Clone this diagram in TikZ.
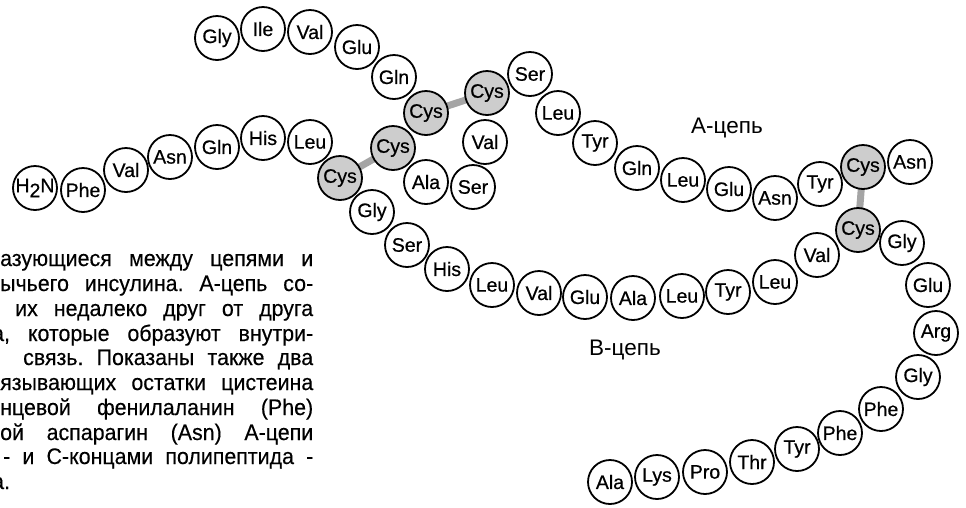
\documentclass[tikz,border=0pt]{standalone}
\usepackage{fontspec}
\setmainfont{Liberation Sans}
\newfontfamily\labelfont[FakeBold=0.6]{Liberation Sans}
\newfontfamily\bodyfont[FakeStretch=0.95,FakeBold=0.3]{Liberation Sans}
\usetikzlibrary{backgrounds}
\definecolor{cysgray}{RGB}{205,205,205}
\definecolor{bondgray}{RGB}{165,165,165}
\frenchspacing
\begin{document}
\begin{tikzpicture}[x=1pt,y=-1pt,
  aa/.style={circle,draw,line width=1.8pt,minimum size=44pt,inner sep=0pt,fill=white,
    font=\labelfont\fontsize{19.5}{21}\selectfont},
  cys/.style={aa,fill=cysgray},
  ssbond/.style={line width=7pt,draw=bondgray},
  bodyline/.style={anchor=base west,inner sep=0pt,font=\bodyfont\fontsize{22.5}{25}\selectfont},
  chainlabel/.style={inner sep=0pt,font=\fontsize{22.5}{25}\selectfont}]
\useasboundingbox (0,0) rectangle (966,507);
% ---- A chain ----
\node[aa]  (a1)  at (217,38)  {Gly};
\node[aa]  (a2)  at (263,29)  {Ile};
\node[aa]  (a3)  at (310,32)  {Val};
\node[aa]  (a4)  at (357,47)  {Glu};
\node[aa]  (a5)  at (394,77)  {Gln};
\node[cys] (a6)  at (426,113) {Cys};
\node[cys] (a7)  at (393,148) {Cys};
\node[aa]  (a8)  at (426,182) {Ala};
\node[aa]  (a9)  at (473,187) {Ser};
\node[aa]  (a10) at (485,142) {Val};
\node[cys] (a11) at (487,93)  {Cys};
\node[aa]  (a12) at (530,74)  {Ser};
\node[aa]  (a13) at (558,113) {Leu};
\node[aa]  (a14) at (595,143) {Tyr};
\node[aa]  (a15) at (637,168) {Gln};
\node[aa]  (a16) at (683,180) {Leu};
\node[aa]  (a17) at (729,189) {Glu};
\node[aa]  (a18) at (775,198) {Asn};
\node[aa]  (a19) at (820,184) {Tyr};
\node[cys] (a20) at (863,167) {Cys};
\node[aa]  (a21) at (910,162) {Asn};
% ---- B chain ----
\node[aa]  (b0)  at (35,188)  {H\raisebox{-5pt}{2}N};
\node[aa]  (b1)  at (83,190)  {Phe};
\node[aa]  (b2)  at (126,170) {Val};
\node[aa]  (b3)  at (170,157) {Asn};
\node[aa]  (b4)  at (217,147) {Gln};
\node[aa]  (b5)  at (263,138) {His};
\node[aa]  (b6)  at (310,142) {Leu};
\node[cys] (b7)  at (340,178) {Cys};
\node[aa]  (b8)  at (372,212) {Gly};
\node[aa]  (b9)  at (407,245) {Ser};
\node[aa]  (b10) at (447,269) {His};
\node[aa]  (b11) at (492,285) {Leu};
\node[aa]  (b12) at (539,293) {Val};
\node[aa]  (b13) at (585,297) {Glu};
\node[aa]  (b14) at (633,298) {Ala};
\node[aa]  (b15) at (682,296) {Leu};
\node[aa]  (b16) at (728,292) {Tyr};
\node[aa]  (b17) at (775,282) {Leu};
\node[aa]  (b18) at (817,255) {Val};
\node[cys] (b19) at (858,230) {Cys};
\node[aa]  (b20) at (902,243) {Gly};
\node[aa]  (b21) at (928,285) {Glu};
\node[aa]  (b22) at (936,333) {Arg};
\node[aa]  (b23) at (918,377) {Gly};
\node[aa]  (b24) at (881,409) {Phe};
\node[aa]  (b25) at (840,433) {Phe};
\node[aa]  (b26) at (797,449) {Tyr};
\node[aa]  (b27) at (752,462) {Thr};
\node[aa]  (b28) at (705,472) {Pro};
\node[aa]  (b29) at (657,477) {Lys};
\node[aa]  (b30) at (610,482) {Ala};
% ---- disulfide bonds ----
\begin{scope}[on background layer]
  \draw[ssbond] (a6.center) -- (a11.center);
  \draw[ssbond] (a7.center) -- (b7.center);
  \draw[ssbond] (a20.center) -- (b19.center);
\end{scope}
% ---- chain labels ----
\node[chainlabel] (alab) at (727,128) {А-цепь};
\node[chainlabel] (blab) at (625,350) {В-цепь};
% ---- caption text (clipped at the left edge, as in the reference) ----
\node[bodyline] (t1)  at (0,266)   {\makebox[313pt][s]{азующиеся между цепями и}};
\node[bodyline] (t2)  at (0,291)   {\makebox[313pt][s]{ычьего инсулина. А-цепь со-}};
\node[bodyline] (t3)  at (15,316)  {\makebox[298pt][s]{их недалеко друг от друга}};
\node[bodyline] (t4)  at (-8,341)  {\makebox[321pt][s]{а, которые образуют внутри-}};
\node[bodyline] (t5)  at (23,365)  {\makebox[290pt][s]{связь. Показаны также два}};
\node[bodyline] (t6)  at (0,390)   {\makebox[313pt][s]{язывающих остатки цистеина}};
\node[bodyline] (t7)  at (0,415)   {\makebox[313pt][s]{нцевой фенилаланин (Phe)}};
\node[bodyline] (t8)  at (0,440)   {\makebox[313pt][s]{ой аспарагин (Asn) А-цепи}};
\node[bodyline] (t9)  at (3,464)   {\makebox[310pt][s]{- и С-концами полипептида -}};
\node[bodyline] (t10) at (-8,489)  {а.};
\end{tikzpicture}
\end{document}
